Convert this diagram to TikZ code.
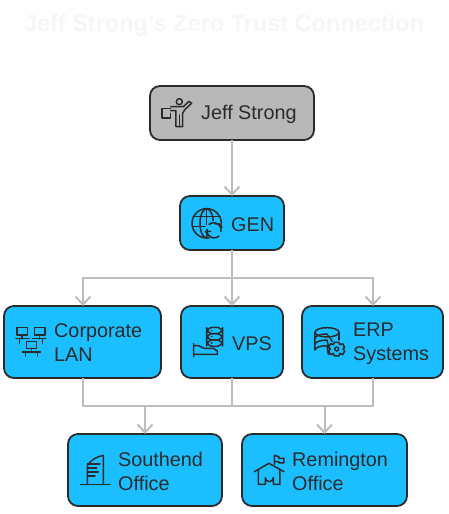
\documentclass[tikz,border=0pt]{standalone}
\usepackage{fontspec}
\setmainfont{Liberation Sans}
\usetikzlibrary{arrows.meta}
\definecolor{ink}{HTML}{2B2B2B}
\definecolor{boxblue}{HTML}{1BBFFF}
\definecolor{boxgrey}{HTML}{B8B8B8}
\definecolor{wire}{HTML}{BDBDBD}
\definecolor{titlegrey}{HTML}{F6F6F6}
\tikzset{
  card/.style={draw=ink,line width=1.8pt,rounded corners=10pt,fill=boxblue,inner sep=0pt,outer sep=0pt,anchor=north west},
  greycard/.style={card,fill=boxgrey},
  lbl/.style={text=ink,font=\fontsize{19.8}{24}\selectfont,align=left,anchor=west,inner sep=0pt},
  ttl/.style={text=titlegrey,font=\fontsize{23.5}{28}\selectfont\bfseries,inner sep=0pt},
  wireline/.style={draw=wire,line width=2pt},
  wirearrow/.style={wireline,-{Straight Barb[length=8pt,width=15pt,line width=2pt]}},
  icon/.style={draw=ink,line width=1.5pt,line cap=round,line join=round,fill=none},
  zoomed/.style 2 args={shift={(#1,#2)},x=0.3333pt,y=-0.3333pt},
}
\begin{document}
\begin{tikzpicture}[x=1pt,y=-1pt]
\useasboundingbox[fill=white] (0,0) rectangle (448,514);
\node[ttl] (title) at (224,25) {Jeff Strong's Zero Trust Connection};
% cards
\node[greycard,minimum width=164pt,minimum height=54pt] (jeff) at (150,86) {};
\node[card,minimum width=104pt,minimum height=54pt] (gen) at (180,196) {};
\node[card,minimum width=157pt,minimum height=72pt] (lan) at (4,306) {};
\node[card,minimum width=102pt,minimum height=72pt] (vps) at (181,306) {};
\node[card,minimum width=141pt,minimum height=72pt] (erp) at (302,306) {};
\node[card,minimum width=154pt,minimum height=72pt] (south) at (68,434) {};
\node[card,minimum width=165pt,minimum height=72pt] (rem) at (242,434) {};
% junction points
\coordinate (split) at (232,278);
\coordinate (merge) at (232,406);
% connectors
\draw[wirearrow] (jeff.south -| split) -- (gen.north -| split);
\draw[wireline] (gen.south -| split) -- (split);
\draw[wirearrow] (split) -| (83,306) coordinate (lantop);
\draw[wirearrow] (split) -- (vps.north -| split);
\draw[wirearrow] (split) -| (373,306) coordinate (erptop);
\draw[wireline] (lan.south -| lantop) |- (merge);
\draw[wireline] (erp.south -| erptop) |- (merge);
\draw[wireline] (vps.south -| merge) -- (merge);
\draw[wirearrow] (merge -| south.north) -- (south.north);
\draw[wirearrow] (merge -| rem.north) -- (rem.north);
% labels
\node[lbl] (t1) at (201,114.5) {Jeff Strong};
\node[lbl] (t2) at (231,224.5) {GEN};
\node[lbl] (t3) at (54,343) {Corporate\\LAN};
\node[lbl] (t4) at (232,344) {VPS};
\node[lbl] (t5) at (353,343.5) {ERP\\Systems};
\node[lbl] (t6) at (118,471) {Southend\\Office};
\node[lbl] (t7) at (292,471) {Remington\\Office};
% person
\begin{scope}[zoomed={140}{70}]
\draw[icon] (118,95) circle (9);
\draw[icon] (66,116) -- (92,116) (66,116) -- (66,144) -- (92,144) -- (92,130);
\draw[icon] (92,122) -- (108,122) -- (108,170) -- (128,170) -- (128,130) -- (135,118) -- (155,100) -- (147,94) -- (130,110) -- (92,110);
\draw[icon] (118,135) -- (118,170);
\end{scope}
% globe
\begin{scope}[zoomed={140}{70}]
\draw[icon] (200,460) circle (44);
\draw[icon] (200,460) ellipse (20 and 44);
\draw[icon] (160,440) -- (240,440) (158,470) -- (195,470) (200,416) -- (200,504);
\fill[boxblue] (222,480) circle (27);
\draw[icon] (201,478) arc (190:50:22) ;
\draw[icon] (243,484) arc (10:-130:22);
\draw[icon] (238,462) -- (246,472) (238,462) -- (226,462);
\draw[icon] (204,498) -- (197,484) -- (212,484);
\end{scope}
% LAN
\begin{scope}[zoomed={0}{295}]
\draw[icon] (51,98) rectangle (82,120);
\draw[icon] (104,98) rectangle (135,120);
\draw[icon] (79,140) rectangle (110,160);
\draw[icon] (48,131) -- (88,131) (98,131) -- (137,131);
\draw[icon] (66,120) -- (66,131) (119,120) -- (119,131) (58,131) -- (58,145) (128,131) -- (128,145);
\draw[icon] (67,171) -- (121,171) (94,160) -- (94,171) (76,171) -- (76,183) (112,171) -- (112,183);
\end{scope}
% VPS
\begin{scope}[zoomed={0}{295}]
\draw[icon,rounded corners=6pt] (620,97) rectangle (668,116);
\draw[icon,rounded corners=6pt] (620,116) rectangle (668,135);
\draw[icon,rounded corners=6pt] (620,135) rectangle (668,154);
\draw[icon] (634,106) -- (636,106) (634,125) -- (636,125) (634,144) -- (636,144);
\draw[icon] (581,146) -- (581,185) (581,178) -- (652,178) -- (652,168) -- (640,160) -- (612,160) -- (596,152) -- (581,152);
\end{scope}
% ERP
\begin{scope}[zoomed={225}{295}]
\draw[icon] (306,112) ellipse (36 and 14);
\draw[icon] (270,112) -- (270,165) arc (180:270:36 and 13) -- (310,178);
\draw[icon] (342,112) -- (342,135);
\draw[icon] (270,130) arc (180:270:36 and 13) -- (325,143);
\draw[icon] (270,148) arc (180:270:36 and 13) -- (312,161);
\fill[boxblue] (335,162) circle (24);
\draw[icon] (335,162) circle (6);
\draw[icon] (328,142) -- (342,142) -- (345,149) -- (353,146) -- (359,157) -- (354,162) -- (359,168) -- (353,179) -- (345,175) -- (342,183) -- (328,183) -- (325,175) -- (317,179) -- (311,168) -- (316,162) -- (311,157) -- (317,146) -- (325,149) -- cycle;
\end{scope}
% Southend
\begin{scope}[zoomed={60}{395}]
\draw[icon] (61,268) -- (150,268);
\draw[icon] (82,268) -- (82,212) .. controls (92,195) and (110,185) .. (130,181) -- (130,268);
\draw[icon] (82,207) -- (120,207) (82,219) -- (110,219) (82,231) -- (115,231) (82,243) -- (105,243);
\end{scope}
% Remington
\begin{scope}[zoomed={235}{395}]
\draw[icon] (58,230) -- (102,205) -- (147,230);
\draw[icon] (70,225) -- (70,268) -- (91,268) -- (91,248) arc (180:0:12) -- (115,268) -- (135,268) -- (135,225);
\draw[icon] (118,208) -- (118,181) -- (132,185) -- (132,190) -- (147,190) -- (147,204) -- (132,204) -- (132,200) -- (118,200);
\end{scope}
\end{tikzpicture}
\end{document}
